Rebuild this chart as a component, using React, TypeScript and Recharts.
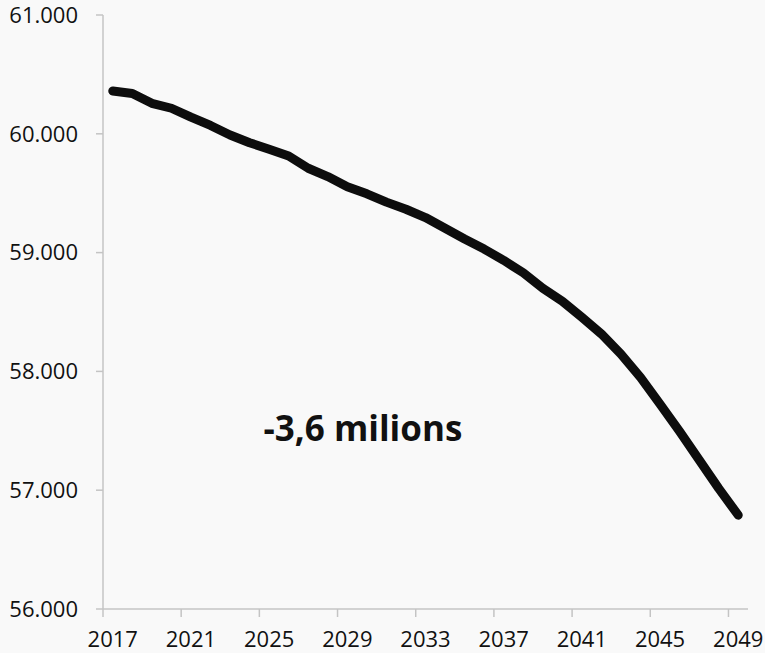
import React from 'react';
import { LineChart, Line, XAxis, YAxis, ReferenceDot } from 'recharts';

// population, thousands of people
const YEARS = [
  2017, 2018, 2019, 2020, 2021, 2022, 2023, 2024, 2025, 2026, 2027,
  2028, 2029, 2030, 2031, 2032, 2033, 2034, 2035, 2036, 2037, 2038,
  2039, 2040, 2041, 2042, 2043, 2044, 2045, 2046, 2047, 2048, 2049,
];
const POPULATION = [
  60360, 60340, 60257, 60215, 60140, 60070, 59990, 59925, 59870, 59813, 59710,
  59640, 59555, 59495, 59425, 59365, 59295, 59205, 59115, 59030, 58935, 58830,
  58700, 58590, 58455, 58315, 58145, 57950, 57725, 57495, 57255, 57015, 56790,
];
const X_TICKS = [2017, 2021, 2025, 2029, 2033, 2037, 2041, 2045, 2049];
const Y_TICKS = [56000, 57000, 58000, 59000, 60000, 61000];
const NOTE = '-3,6 milions';
const NOTE_AT = { year: 2029.8, value: 57520 };

const data = YEARS.map((year, i) => ({ year, value: POPULATION[i] }));

const W = 765;
const H = 653;
const MARGIN = { top: 15, right: 17, left: 0, bottom: 0 };
const Y_AXIS_W = 103;
const X_AXIS_H = 44;
const PLOT_W = W - MARGIN.left - MARGIN.right - Y_AXIS_W;
const BAND = PLOT_W / YEARS.length;

const AXIS_COLOR = '#c4c4c4';
const FONT = '"Open Sans", sans-serif';
const TICK_SIZE = 8;
const TICK_MARGIN = 30;

const fmtThousands = (v: number) => {
  const hi = Math.floor(v / 1000);
  const lo = String(v % 1000).padStart(3, '0');
  return `${hi}.${lo}`;
};

// label centred on the category, tick mark on the category boundary (Excel style)
function YearTick(props: any) {
  const { x, y, payload } = props;
  const axisY = y - TICK_SIZE - TICK_MARGIN;
  const tx = x - BAND / 2;
  return (
    <g>
      <line x1={tx} x2={tx} y1={axisY} y2={axisY + TICK_SIZE} stroke={AXIS_COLOR} strokeWidth={1.5} />
      <text x={x} y={y} textAnchor="middle" fontFamily={FONT} fontSize={22} fill="#111">
        {payload.value}
      </text>
    </g>
  );
}

function NoteLabel(props: any) {
  const { viewBox } = props;
  const cx = viewBox.x + viewBox.width / 2;
  const cy = viewBox.y + viewBox.height / 2;
  return (
    <text x={cx} y={cy} dy="0.36em" textAnchor="middle" fontFamily={FONT} fontWeight="bold" fontSize={35} fill="#111">
      {NOTE}
    </text>
  );
}

export default function App() {
  return (
    <div style={{ position: 'absolute', left: 0, top: 0, width: W, height: H, background: '#f9f9f9' }}>
      <LineChart width={W} height={H} data={data} margin={MARGIN}>
        <XAxis
          dataKey="year"
          type="number"
          domain={[YEARS[0] - 0.5, YEARS[YEARS.length - 1] + 0.5]}
          ticks={X_TICKS}
          interval={0}
          height={X_AXIS_H}
          tickLine={false}
          tickSize={TICK_SIZE}
          tickMargin={TICK_MARGIN}
          tick={<YearTick />}
          axisLine={{ stroke: AXIS_COLOR, strokeWidth: 1.5 }}
        />
        <YAxis
          type="number"
          domain={[56000, 61000]}
          ticks={Y_TICKS}
          interval={0}
          width={Y_AXIS_W}
          tickFormatter={fmtThousands}
          tickSize={7}
          tickMargin={18}
          tickLine={{ stroke: AXIS_COLOR, strokeWidth: 1.5 }}
          axisLine={{ stroke: AXIS_COLOR, strokeWidth: 1.5 }}
          tick={{ fontFamily: FONT, fontSize: 22, fill: '#111' }}
        />
        <Line
          type="linear"
          dataKey="value"
          stroke="#0d0d0d"
          strokeWidth={9}
          strokeLinecap="round"
          strokeLinejoin="round"
          dot={false}
          activeDot={false}
          isAnimationActive={false}
        />
        <ReferenceDot
          x={NOTE_AT.year}
          y={NOTE_AT.value}
          r={0}
          fill="none"
          stroke="none"
          label={<NoteLabel />}
        />
      </LineChart>
    </div>
  );
}
